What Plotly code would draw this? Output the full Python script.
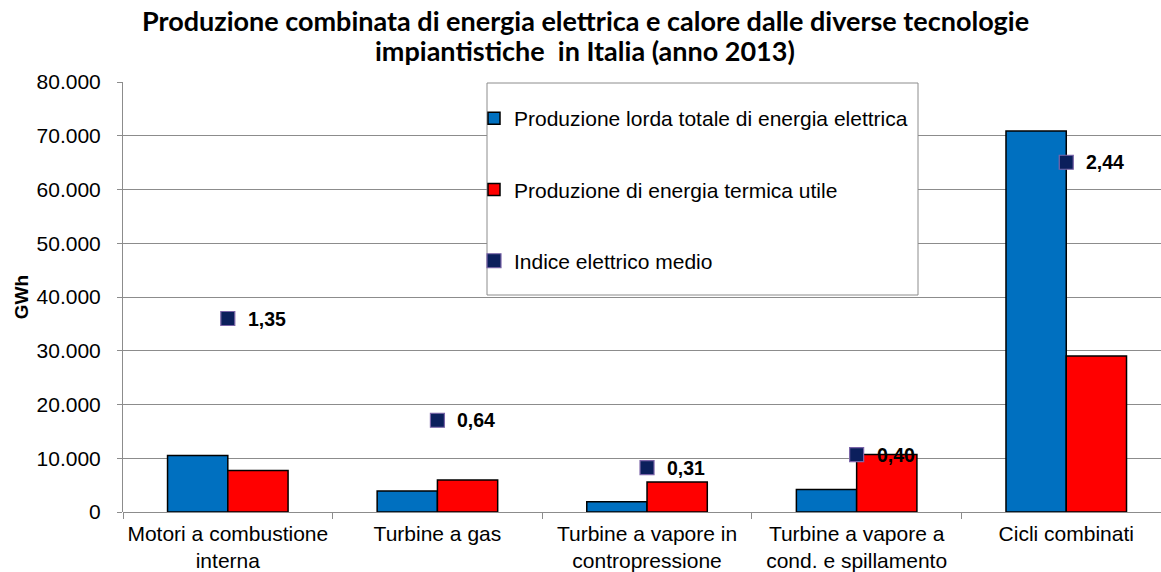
import plotly.graph_objects as go

# Tecnologie impiantistiche (categorie asse x)
categorie = [
    "Motori a combustione<br>interna",
    "Turbine a gas",
    "Turbine a vapore in<br>contropressione",
    "Turbine a vapore a<br>cond. e spillamento",
    "Cicli combinati",
]
# GWh
prod_elettrica = [10500, 3900, 1900, 4200, 70900]
prod_termica = [7700, 5950, 5600, 10700, 29000]
# indice elettrico medio (asse secondario)
indice_elettrico = [1.35, 0.64, 0.31, 0.40, 2.44]
y_ticks = [0, 10000, 20000, 30000, 40000, 50000, 60000, 70000, 80000]
y_tick_labels = ["0", "10.000", "20.000", "30.000", "40.000", "50.000", "60.000", "70.000", "80.000"]
titolo = [
    "Produzione combinata di energia elettrica e calore dalle diverse tecnologie",
    "impiantistiche  in Italia (anno 2013)",
]

W, H = 1161, 572
L, T, B = 123, 82, 60
plot_w = W - L
plot_h = H - T - B
FONT = "Liberation Sans, Arial, sans-serif"


def px_x(p):
    return (p - L) / plot_w


def px_y(p):
    return (H - B - p) / plot_h


fig = go.Figure()
fig.add_trace(go.Bar(
    x=categorie, y=prod_elettrica,
    name="Produzione lorda totale di energia elettrica",
    marker=dict(color="#0070C0", line=dict(color="#000000", width=1.5)),
    legendgroup="a",
))
fig.add_trace(go.Bar(
    x=categorie, y=prod_termica,
    name="Produzione di energia termica utile",
    marker=dict(color="#FF0000", line=dict(color="#000000", width=1.5)),
    legendgroup="b",
))
fig.add_trace(go.Scatter(
    x=categorie, y=indice_elettrico, yaxis="y2", mode="markers",
    name="Indice elettrico medio",
    marker=dict(symbol="square", size=14, color="#0B1F5C",
                line=dict(color="#7A64A8", width=1.2)),
    legendgroup="c",
))

# etichette dei valori dell'indice
for c, v in zip(categorie, indice_elettrico):
    fig.add_annotation(
        x=c, y=v, yref="y2", xref="x",
        text="<b>" + f"{v:.2f}".replace(".", ",") + "</b>",
        showarrow=False, xanchor="left", yanchor="middle", xshift=18,
        font=dict(family=FONT, size=19.5, color="#000000"),
    )

# titolo su due righe
for riga, py in zip(titolo, [21, 50]):
    fig.add_annotation(
        x=px_x(585), y=px_y(py), xref="paper", yref="paper",
        text="<b>" + riga + "</b>", showarrow=False,
        xanchor="center", yanchor="middle",
        font=dict(family="Lato, sans-serif", size=27, color="#000000"),
    )

# riquadro della legenda
fig.add_shape(
    type="rect", xref="paper", yref="paper",
    x0=px_x(487), x1=px_x(918), y0=px_y(295), y1=px_y(83),
    fillcolor="#FFFFFF", line=dict(color="#8C8C8C", width=1), layer="above",
)

fig.update_layout(
    width=W, height=H,
    margin=dict(l=L, r=0, t=T, b=B, autoexpand=False),
    paper_bgcolor="#FFFFFF", plot_bgcolor="#FFFFFF",
    barmode="group", bargap=0.425, bargroupgap=0,
    font=dict(family=FONT, size=21, color="#000000"),
    showlegend=True,
    legend=dict(
        x=px_x(474), y=px_y(98), xanchor="left", yanchor="top",
        bgcolor="rgba(0,0,0,0)", borderwidth=0,
        font=dict(family=FONT, size=21, color="#000000"),
        traceorder="grouped", tracegroupgap=41, itemwidth=30,
    ),
    xaxis=dict(
        type="category", range=[-0.5, 4.452],
        showline=False, showgrid=False, automargin=False,
        ticks="outside", ticklen=6, tickcolor="#8C8C8C", tickson="boundaries",
        tickangle=0,
        tickfont=dict(family=FONT, size=21, color="#000000"),
        ticklabelstandoff=7,
    ),
    yaxis=dict(
        range=[0, 80000], tickvals=y_ticks, ticktext=y_tick_labels,
        showline=True, linecolor="#8C8C8C", linewidth=1, automargin=False,
        showgrid=True, gridcolor="#8C8C8C", gridwidth=1,
        zeroline=True, zerolinecolor="#8C8C8C", zerolinewidth=1,
        ticks="outside", ticklen=5, tickcolor="#8C8C8C",
        tickfont=dict(family=FONT, size=21, color="#000000"),
        ticklabelstandoff=12,
        title=dict(text="<b>GWh</b>", font=dict(family=FONT, size=19, color="#000000"), standoff=2),
    ),
    yaxis2=dict(range=[0, 3], overlaying="y", side="right", visible=False),
)

fig.write_html("out.html")
